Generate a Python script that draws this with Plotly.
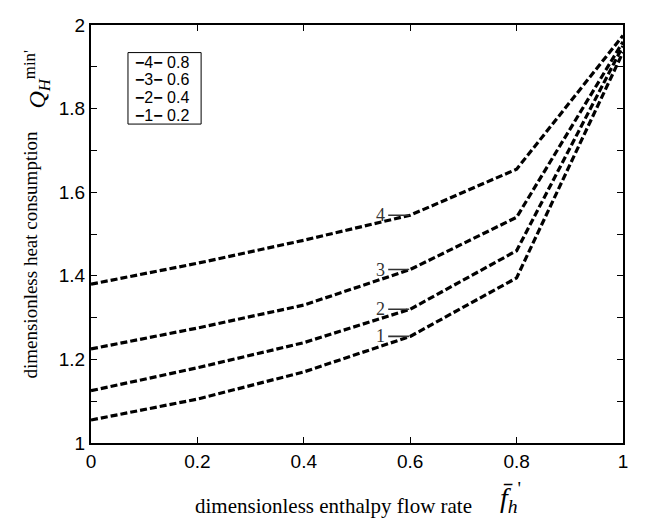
import plotly.graph_objects as go

x_vals = [0, 0.2, 0.4, 0.6, 0.8, 1.0]
curve_ids = ["1", "2", "3", "4"]
params = [0.2, 0.4, 0.6, 0.8]
y_curve1 = [1.055, 1.105, 1.17, 1.255, 1.395, 1.935]
y_curve2 = [1.125, 1.18, 1.24, 1.32, 1.46, 1.95]
y_curve3 = [1.225, 1.275, 1.33, 1.415, 1.54, 1.96]
y_curve4 = [1.38, 1.43, 1.485, 1.545, 1.655, 1.975]
curves = [y_curve1, y_curve2, y_curve3, y_curve4]

x_ticks = [0, 0.2, 0.4, 0.6, 0.8, 1]
x_ticklabels = ["0", "0.2", "0.4", "0.6", "0.8", "1"]
y_ticks = [1, 1.1, 1.2, 1.3, 1.4, 1.5, 1.6, 1.7, 1.8, 1.9, 2]
y_ticklabels = ["1", "", "1.2", "", "1.4", "", "1.6", "", "1.8", "", "2"]

fig = go.Figure()
for cid, ys in zip(curve_ids, curves):
    fig.add_trace(go.Scatter(
        x=x_vals, y=ys, mode="lines", name=cid, showlegend=False,
        line=dict(color="black", width=3.2, dash="7px,3px"),
    ))

# curve labels near the 0.6 vertex
for cid, ys in zip(curve_ids, curves):
    fig.add_annotation(
        x=0.6, y=ys[3], xref="x", yref="y", text=cid,
        showarrow=True, arrowhead=0, arrowwidth=1.6, arrowcolor="#333",
        ax=-30, ay=0, standoff=1, borderpad=3,
        font=dict(family="Liberation Serif", size=18, color="#333"),
    )

# legend box (frame + one text row per curve)
fig.add_shape(type="rect", xref="x", yref="y", x0=0.0695, x1=0.207, y0=1.763, y1=1.934,
              line=dict(color="black", width=1), fillcolor="white", layer="above")
legend_rows_y = [1.911, 1.869, 1.826, 1.784]
for ry, cid, p in zip(legend_rows_y, curve_ids[::-1], params[::-1]):
    fig.add_annotation(
        x=0.079, y=ry, xref="x", yref="y", xanchor="left", yanchor="middle",
        text=f"<b>−</b>{cid}<b>−</b> {p}", showarrow=False,
        font=dict(family="Liberation Sans", size=16, color="black"),
    )

axis_common = dict(
    showgrid=False, zeroline=False, showline=True, linecolor="black",
    linewidth=2, mirror="allticks", ticks="inside", ticklen=6,
    tickcolor="black", tickfont=dict(family="Liberation Sans", size=19, color="black"),
    ticklabeloverflow="allow",
)
fig.update_xaxes(range=[0, 1], tickvals=x_ticks, ticktext=x_ticklabels, **axis_common)
fig.update_yaxes(range=[1, 2], tickvals=y_ticks, ticktext=y_ticklabels, **axis_common)

# axis titles
fig.add_annotation(
    x=-0.137, y=0.45, xref="paper", yref="paper", textangle=-90,
    text="dimensionless heat consumption", showarrow=False,
    font=dict(family="Liberation Serif", size=19, color="black"),
)
fig.add_annotation(
    x=-0.137, y=0.945, xref="paper", yref="paper", textangle=-90,
    text="<i>Q</i><sub><i>H</i></sub><sup>min'</sup>", showarrow=False,
    font=dict(family="Liberation Serif", size=24, color="black"),
)
fig.add_annotation(
    x=0.455, y=-0.15, xref="paper", yref="paper", yanchor="middle",
    text="dimensionless enthalpy flow rate", showarrow=False,
    font=dict(family="Liberation Serif", size=21, color="black"),
)
fig.add_annotation(
    x=0.765, y=-0.13, xref="paper", yref="paper", xanchor="left", yanchor="middle",
    text="<i>f̄</i><sub><i>h</i></sub><sup>'</sup>", showarrow=False,
    font=dict(family="Liberation Serif", size=28, color="black"),
)

fig.update_layout(
    width=649, height=531,
    margin=dict(l=83, r=34, t=7, b=96),
    plot_bgcolor="white", paper_bgcolor="white",
)

fig.write_html("out.html")
